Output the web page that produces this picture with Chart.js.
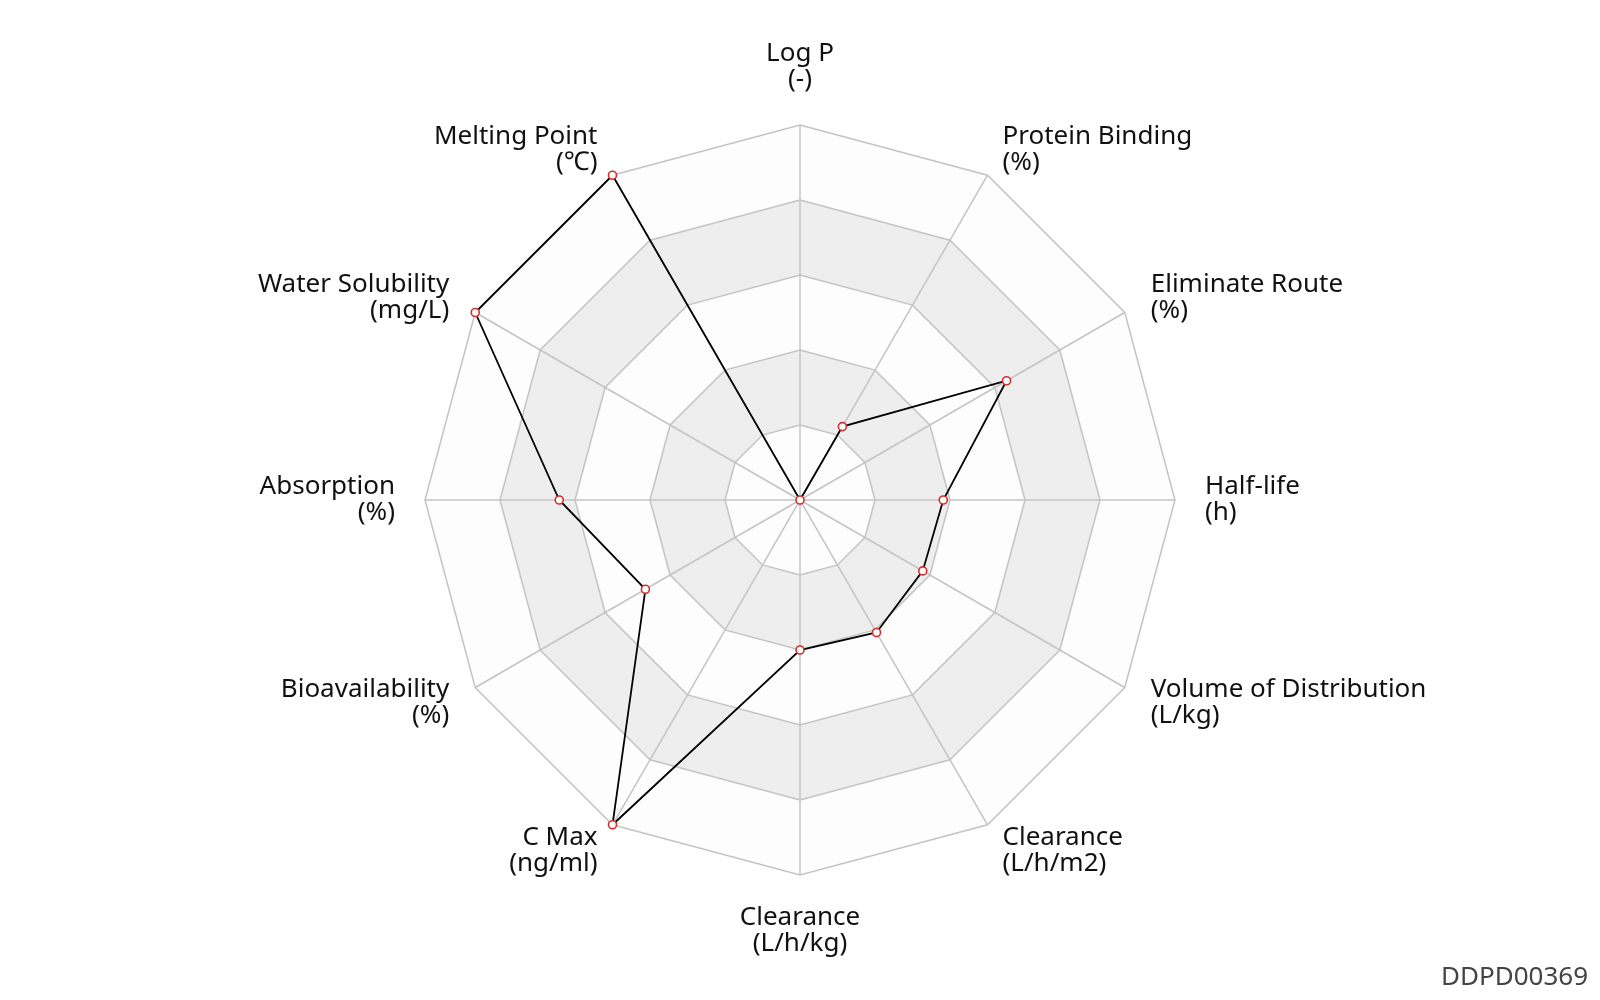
<!DOCTYPE html>
<html>
<head>
<meta charset="utf-8">
<script src="https://cdn.jsdelivr.net/npm/chart.js@4.4.1/dist/chart.umd.min.js"></script>
<style>
  html, body { margin: 0; padding: 0; background: #ffffff; }
  #wrap { position: relative; width: 1600px; height: 1000px; }
</style>
</head>
<body>
<div id="wrap"><canvas id="c"></canvas></div>
<script>
// ---- data ----
const axisNames = ['Log P', 'Protein Binding', 'Eliminate Route', 'Half-life', 'Volume of Distribution',
  'Clearance', 'Clearance', 'C Max', 'Bioavailability', 'Absorption', 'Water Solubility', 'Melting Point'];
const axisUnits = ['(-)', '(%)', '(%)', '(h)', '(L/kg)', '(L/h/m2)', '(L/h/kg)', '(ng/ml)', '(%)', '(%)', '(mg/L)', '(\u2103)'];
const drugValues = [0, 1.13, 3.18, 1.91, 1.89, 2.04, 2.0, 5, 2.38, 3.21, 5, 5];
const scaleMax = 5;
const ringLevels = [1, 2, 3, 4, 5];
const watermark = 'DDPD00369';

const FONT = '"Noto Sans", "Open Sans", sans-serif';

// alternating ring bands drawn from the radial scale geometry
const bandPlugin = {
  id: 'bands',
  beforeDraw(chart) {
    const s = chart.scales.r;
    const ctx = chart.ctx;
    const n = chart.data.labels.length;
    ctx.save();
    for (let k = ringLevels.length - 1; k >= 0; k--) {
      const v = ringLevels[k];
      const d = s.getDistanceFromCenterForValue(v);
      ctx.beginPath();
      for (let i = 0; i < n; i++) {
        const p = s.getPointPosition(i, d);
        if (i === 0) ctx.moveTo(p.x, p.y); else ctx.lineTo(p.x, p.y);
      }
      ctx.closePath();
      ctx.fillStyle = (k % 2 === 0) ? '#fdfdfd' : '#eeeeee';
      ctx.fill();
    }
    ctx.restore();
  }
};

// axis names placed like the reference (vertically centred except top/bottom)
const labelPlugin = {
  id: 'axisNames',
  afterDraw(chart) {
    const s = chart.scales.r;
    const ctx = chart.ctx;
    const n = chart.data.labels.length;
    const gap = 30;
    const lh = 26;
    ctx.save();
    ctx.font = '26px ' + FONT;
    ctx.fillStyle = '#111111';
    ctx.textBaseline = 'middle';
    for (let i = 0; i < n; i++) {
      const p = s.getPointPosition(i, s.drawingArea + gap);
      const dx = p.x - s.xCenter;
      const dy = p.y - s.yCenter;
      let align = Math.abs(dx) < 1 ? 'center' : (dx > 0 ? 'left' : 'right');
      const lines = [axisNames[i], axisUnits[i]];
      let y0;
      if (Math.abs(dx) < 1 && dy < 0) y0 = p.y - lh * lines.length + lh / 2 - 2;
      else if (Math.abs(dx) < 1 && dy > 0) y0 = p.y + lh / 2;
      else y0 = p.y - lh * (lines.length - 1) / 2;
      ctx.textAlign = align;
      lines.forEach((t, j) => ctx.fillText(t, p.x, y0 + j * lh));
    }
    ctx.font = '26px ' + FONT;
    ctx.fillStyle = '#444444';
    ctx.textAlign = 'right';
    ctx.textBaseline = 'alphabetic';
    ctx.fillText(watermark, 1588, 985);
    ctx.restore();
  }
};

new Chart(document.getElementById('c'), {
  type: 'radar',
  data: {
    labels: axisNames.map((n, i) => [n, axisUnits[i]]),
    datasets: [{
      data: drugValues,
      borderColor: '#000000',
      borderWidth: 1.8,
      fill: false,
      tension: 0,
      pointRadius: 4,
      pointHoverRadius: 4,
      pointBorderWidth: 1.6,
      pointBorderColor: '#d42e2e',
      pointBackgroundColor: '#ffffff'
    }]
  },
  options: {
    responsive: true,
    maintainAspectRatio: false,
    animation: false,
    layout: { padding: { top: 125, bottom: 125, left: 0, right: 0 } },
    plugins: { legend: { display: false }, tooltip: { enabled: false } },
    scales: {
      r: {
        min: 0,
        max: scaleMax,
        beginAtZero: true,
        ticks: { display: false, stepSize: 1 },
        pointLabels: { display: false },
        grid: { color: '#c4c4c4', lineWidth: 1.5 },
        angleLines: { color: '#c4c4c4', lineWidth: 1.5 }
      }
    }
  },
  plugins: [bandPlugin, labelPlugin]
});
</script>
</body>
</html>
